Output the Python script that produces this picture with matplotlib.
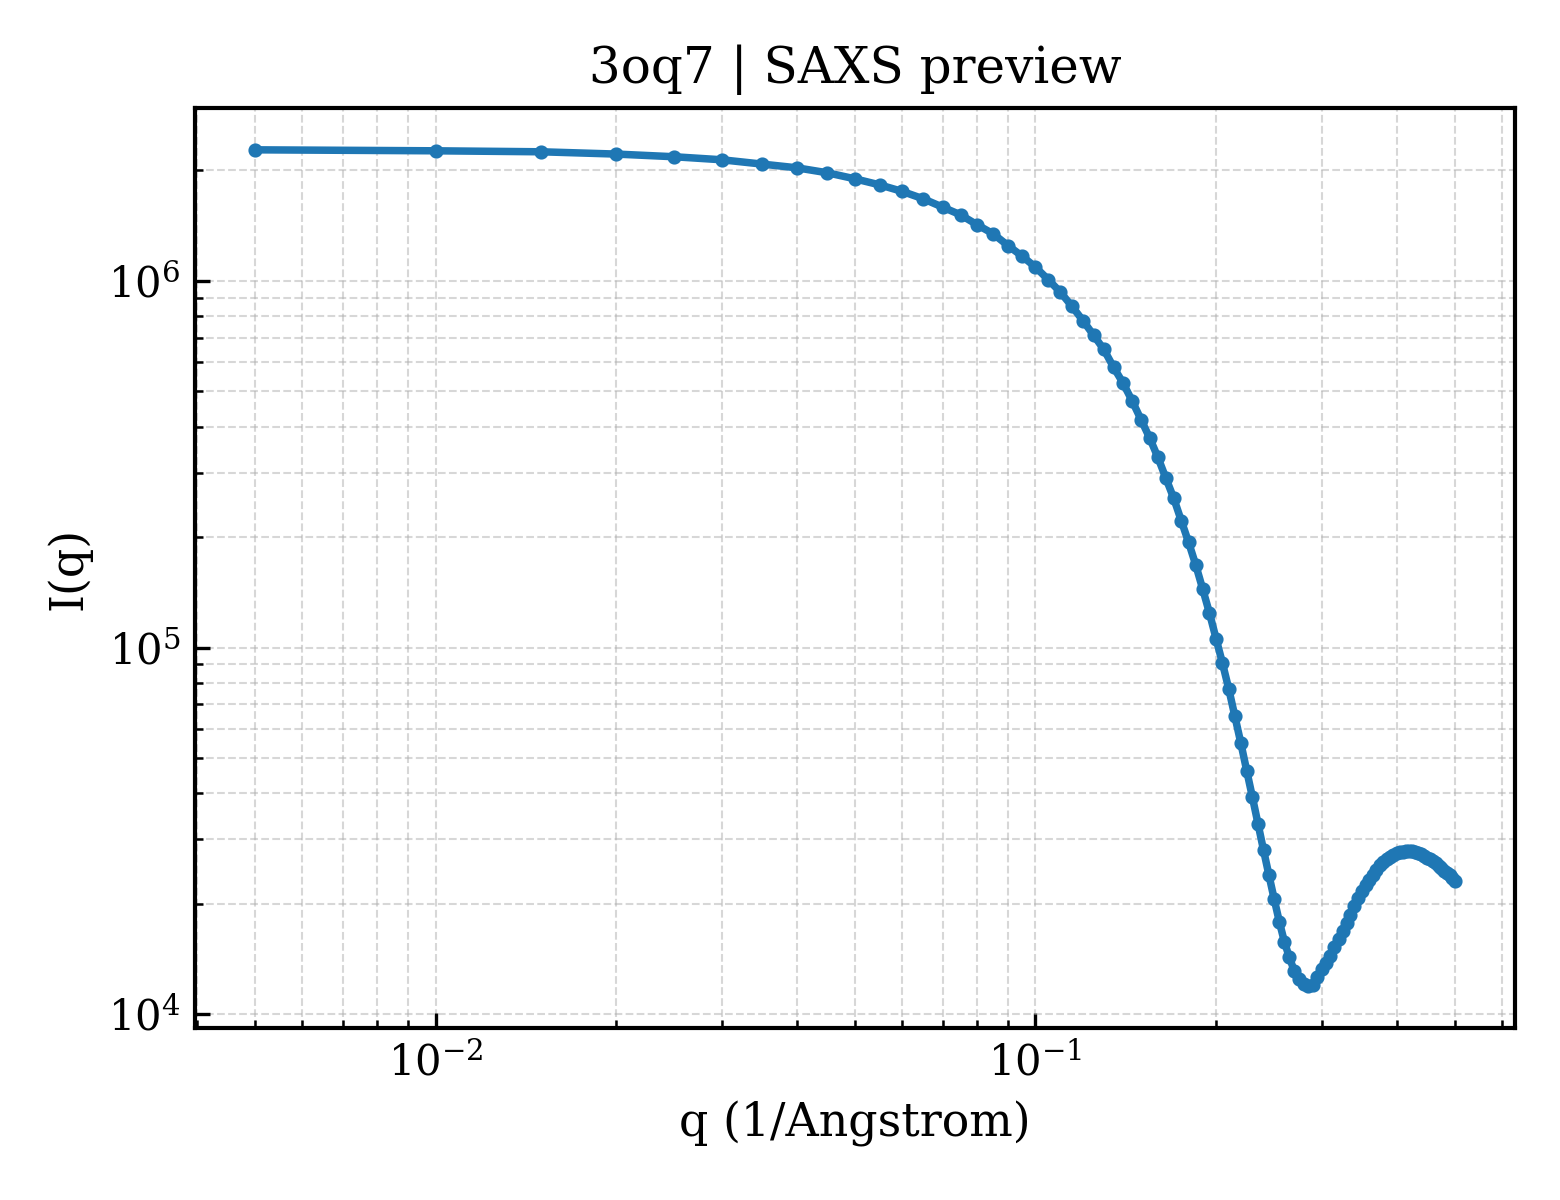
import matplotlib
matplotlib.use("Agg")
import matplotlib.pyplot as plt
import numpy as np

plt.rcParams['font.family'] = ['DejaVu Serif']
plt.rcParams['mathtext.fontset'] = 'dejavuserif'

q = [0.005 * k for k in range(1, 101)]
intensity = [
    2.277e6, 2.263e6, 2.249e6, 2.217e6, 2.180e6, 2.139e6, 2.082e6, 2.034e6, 1.971e6, 1.898e6,
    1.827e6, 1.753e6, 1.674e6, 1.589e6, 1.514e6, 1.421e6, 1.344e6, 1.248e6, 1.168e6, 1.090e6,
    1.008e6, 9.32e5, 8.53e5, 7.79e5, 7.11e5, 6.50e5, 5.81e5, 5.26e5, 4.70e5, 4.18e5,
    3.73e5, 3.30e5, 2.894e5, 2.554e5, 2.218e5, 1.936e5, 1.680e5, 1.444e5, 1.242e5, 1.058e5,
    9.06e4, 7.71e4, 6.49e4, 5.48e4, 4.61e4, 3.90e4, 3.30e4, 2.80e4, 2.395e4, 2.060e4,
    1.786e4, 1.575e4, 1.428e4, 1.313e4, 1.246e4, 1.207e4, 1.192e4, 1.200e4, 1.262e4, 1.331e4,
    1.382e4, 1.444e4, 1.523e4, 1.602e4, 1.688e4, 1.774e4, 1.867e4, 1.973e4, 2.075e4, 2.174e4,
    2.245e4, 2.317e4, 2.394e4, 2.475e4, 2.550e4, 2.603e4, 2.657e4, 2.690e4, 2.719e4, 2.750e4,
    2.767e4, 2.776e4, 2.785e4, 2.788e4, 2.785e4, 2.767e4, 2.750e4, 2.733e4, 2.704e4, 2.673e4,
    2.645e4, 2.615e4, 2.582e4, 2.542e4, 2.503e4, 2.463e4, 2.432e4, 2.394e4, 2.357e4, 2.314e4,
]

title = "3oq7 | SAXS preview"
xlabel = "q (1/Angstrom)"
ylabel = "I(q)"

fig, ax = plt.subplots(figsize=(5.2, 4.0), dpi=300)
fig.subplots_adjust(left=0.125, right=0.971, top=0.91, bottom=0.1433)

ax.plot(q, intensity, color='#1f77b4', lw=1.8, marker='o', ms=2.4)
ax.set_xscale('log')
ax.set_yscale('log')
ax.set_title(title, fontsize=12)
ax.set_xlabel(xlabel, fontsize=11)
ax.set_ylabel(ylabel, fontsize=11)
ax.tick_params(which='both', direction='in', labelsize=10)
ax.grid(True, which='both', ls='--', lw=0.5, alpha=0.5)
for s in ax.spines.values():
    s.set_linewidth(1.0)

fig.savefig("out.png", dpi=300)
